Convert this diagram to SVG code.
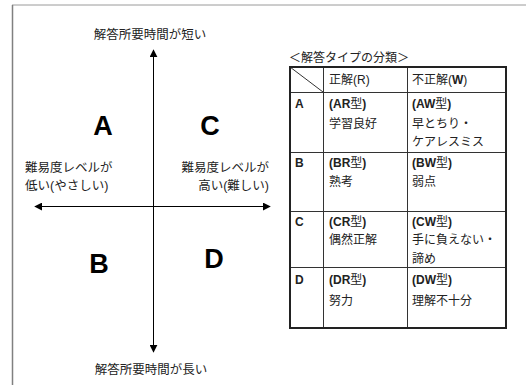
<svg xmlns="http://www.w3.org/2000/svg" width="526" height="385" viewBox="0 0 526 385">
<defs>
<style>
.jp{font-family:"Liberation Sans","Noto Sans CJK JP",sans-serif;fill:#222;}
.ax{font-size:12.5px;}
.big{font-family:"Liberation Sans",Arial,sans-serif;font-weight:bold;font-size:27px;fill:#000;text-anchor:middle;}
.tb{font-size:12px;}
.b{font-weight:bold;font-family:"Liberation Sans",sans-serif;}
.axis{stroke:#000;stroke-width:1;fill:none;}
.inner{stroke:#333;stroke-width:1;fill:none;}
</style>
<marker id="ah" viewBox="0 0 10 10" refX="9" refY="5" markerWidth="8" markerHeight="8" markerUnits="userSpaceOnUse" orient="auto">
<path d="M0,0 L10,5 L0,10 z" fill="#000"/>
</marker>
</defs>
<rect width="526" height="385" fill="#fff"/>
<g id="frame">
<line x1="12" y1="5" x2="526" y2="5" stroke="#9a9a9a" stroke-width="1"/>
<line x1="12.5" y1="5" x2="12.5" y2="385" stroke="#808080" stroke-width="1.5"/>
</g>
<g id="connectors">
<line class="axis" x1="153.5" y1="352" x2="153.5" y2="50" marker-end="url(#ah)"/>
<line class="axis" x1="153.5" y1="58" x2="153.5" y2="352" marker-end="url(#ah)"/>
<line class="axis" x1="150" y1="206.5" x2="35" y2="206.5" marker-end="url(#ah)"/>
<line class="axis" x1="150" y1="206.5" x2="270" y2="206.5" marker-end="url(#ah)"/>
</g>
<g id="label-top"><text class="jp ax" x="150" y="39" text-anchor="middle">解答所要時間が短い</text></g>
<g id="label-bottom"><text class="jp ax" x="151" y="374" text-anchor="middle">解答所要時間が長い</text></g>
<g id="label-left">
<text class="jp ax" x="25" y="172">難易度レベルが</text>
<text class="jp ax" x="25" y="190">低い(やさしい)</text>
</g>
<g id="label-right">
<text class="jp ax" x="269" y="172" text-anchor="end">難易度レベルが</text>
<text class="jp ax" x="269" y="190" text-anchor="end">高い(難しい)</text>
</g>
<g id="quad-A"><text class="big" x="103" y="135">A</text></g>
<g id="quad-C"><text class="big" x="210" y="135">C</text></g>
<g id="quad-B"><text class="big" x="99" y="273">B</text></g>
<g id="quad-D"><text class="big" x="214" y="268">D</text></g>
<g id="table">
<text class="jp tb" x="289" y="62">＜解答タイプの分類＞</text>
<line class="inner" x1="290" y1="67" x2="323" y2="92"/>
<line class="inner" x1="323.5" y1="67" x2="323.5" y2="328"/>
<line class="inner" x1="407.5" y1="67" x2="407.5" y2="328"/>
<line class="inner" x1="290" y1="92.5" x2="506" y2="92.5"/>
<line class="inner" x1="290" y1="152.5" x2="506" y2="152.5"/>
<line class="inner" x1="290" y1="211.5" x2="506" y2="211.5"/>
<line class="inner" x1="290" y1="267.5" x2="506" y2="267.5"/>
<rect x="290" y="67" width="216" height="261" fill="none" stroke="#222" stroke-width="2"/>
<text class="jp tb" x="329" y="84">正解(R)</text>
<text class="jp tb" x="412" y="84">不正解(<tspan class="b">W</tspan>)</text>
<g id="row-A">
<text class="jp tb b" x="295" y="108">A</text>
<text class="jp tb" x="329" y="108"><tspan class="b">(AR</tspan>型<tspan class="b">)</tspan></text>
<text class="jp tb" x="329" y="128">学習良好</text>
<text class="jp tb" x="412" y="108"><tspan class="b">(AW</tspan>型<tspan class="b">)</tspan></text>
<text class="jp tb" x="412" y="128">早とちり・</text>
<text class="jp tb" x="412" y="146">ケアレスミス</text>
</g>
<g id="row-B">
<text class="jp tb b" x="295" y="167">B</text>
<text class="jp tb" x="329" y="167"><tspan class="b">(BR</tspan>型<tspan class="b">)</tspan></text>
<text class="jp tb" x="329" y="186">熟考</text>
<text class="jp tb" x="412" y="167"><tspan class="b">(BW</tspan>型<tspan class="b">)</tspan></text>
<text class="jp tb" x="412" y="186">弱点</text>
</g>
<g id="row-C">
<text class="jp tb b" x="295" y="226">C</text>
<text class="jp tb" x="329" y="226"><tspan class="b">(CR</tspan>型<tspan class="b">)</tspan></text>
<text class="jp tb" x="329" y="244">偶然正解</text>
<text class="jp tb" x="412" y="226"><tspan class="b">(CW</tspan>型<tspan class="b">)</tspan></text>
<text class="jp tb" x="412" y="244">手に負えない・</text>
<text class="jp tb" x="412" y="263">諦め</text>
</g>
<g id="row-D">
<text class="jp tb b" x="295" y="284">D</text>
<text class="jp tb" x="329" y="284"><tspan class="b">(DR</tspan>型<tspan class="b">)</tspan></text>
<text class="jp tb" x="329" y="305">努力</text>
<text class="jp tb" x="412" y="284"><tspan class="b">(DW</tspan>型<tspan class="b">)</tspan></text>
<text class="jp tb" x="412" y="305">理解不十分</text>
</g>
</g>
</svg>
